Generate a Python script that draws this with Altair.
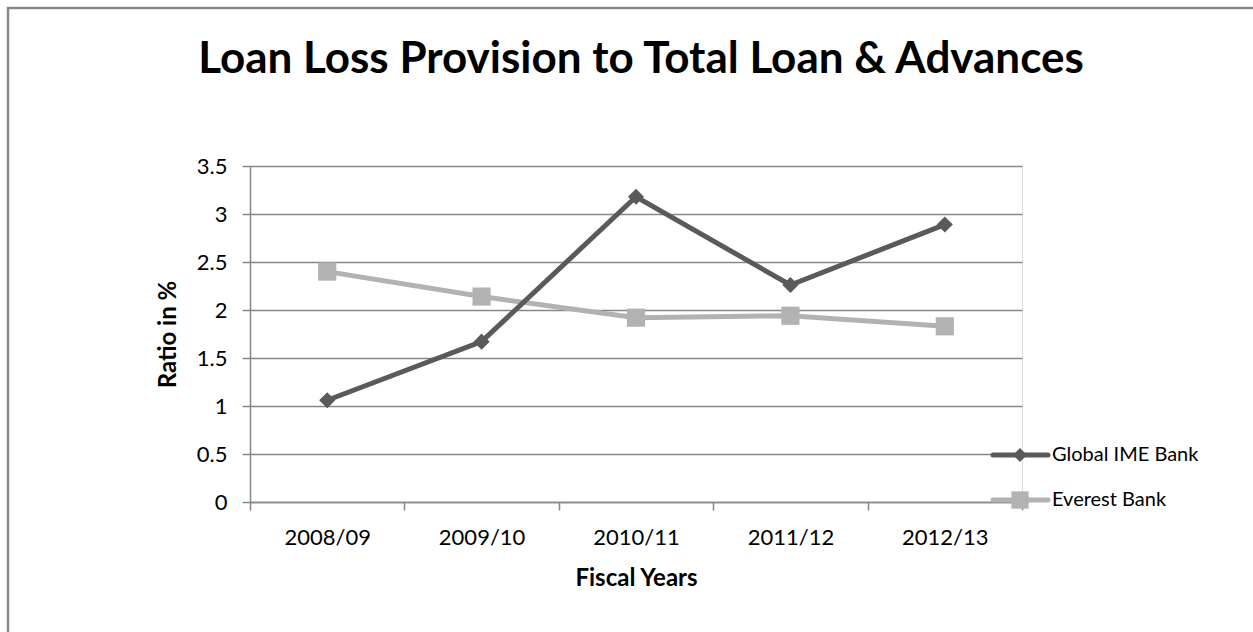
import altair as alt
import pandas as pd

years = ["2008/09", "2009/10", "2010/11", "2011/12", "2012/13"]
global_ime = [1.06, 1.67, 3.18, 2.26, 2.89]
everest = [2.40, 2.14, 1.92, 1.94, 1.83]
series_names = ["Global IME Bank", "Everest Bank"]
series_colors = ["#5a5a5a", "#b2b2b2"]
y_ticks = [0, 0.5, 1, 1.5, 2, 2.5, 3, 3.5]
title_text = "Loan Loss Provision to Total Loan & Advances"

rows = []
for i, y in enumerate(years):
    rows.append({"year": y, "series": series_names[0], "value": global_ime[i]})
    rows.append({"year": y, "series": series_names[1], "value": everest[i]})
df = pd.DataFrame(rows)

FONT = "Lato"
W, H = 772, 336

x_enc = alt.X("year:N", sort=years, bandPosition=0.5,
              scale=alt.Scale(type="band", paddingInner=0, paddingOuter=0),
              axis=alt.Axis(title="Fiscal Years", labelAngle=0, tickBand="extent",
                            domainColor="#878787", domainWidth=1.5, tickColor="#878787",
                            tickWidth=1.5, tickSize=8, labelPadding=17, labelFontSize=22,
                            labelFont=FONT, labelColor="#000000", titleFont=FONT,
                            titleFontSize=24, titleFontWeight="bold", titlePadding=18,
                            titleColor="#000000", grid=False))
y_enc = alt.Y("value:Q", scale=alt.Scale(domain=[0, 3.5], nice=False),
              axis=alt.Axis(title="Ratio in %", values=y_ticks, format="~g",
                            domainColor="#878787",
                            domainWidth=1.5, tickColor="#878787", tickWidth=1.5, tickSize=8,
                            labelPadding=15, labelFontSize=22, labelFont=FONT,
                            labelColor="#000000", titleFont=FONT, titleFontSize=24,
                            titleFontWeight="bold", titlePadding=16, titleColor="#000000",
                            grid=True, gridColor="#878787", gridWidth=1.5))
color_enc = alt.Color("series:N", scale=alt.Scale(domain=series_names, range=series_colors),
                      legend=None)

base = alt.Chart(df)
g = base.transform_filter(alt.datum.series == series_names[0])
e = base.transform_filter(alt.datum.series == series_names[1])

line_e = e.mark_line(strokeWidth=5).encode(x=x_enc, y=y_enc, color=color_enc)
pts_e = e.mark_point(shape="square", filled=True, size=330, opacity=1).encode(
    x=x_enc, y=y_enc, color=color_enc)
line_g = g.mark_line(strokeWidth=5).encode(x=x_enc, y=y_enc, color=color_enc)
pts_g = g.mark_point(shape="diamond", filled=True, size=260, opacity=1).encode(
    x=x_enc, y=y_enc, color=color_enc)

one = alt.Chart(pd.DataFrame({"k": [0]}))

border = one.mark_rect(fill=None, stroke="#878787", strokeWidth=2.5).encode(
    x=alt.value(-242), x2=alt.value(W + 260), y=alt.value(-158), y2=alt.value(H + 160))

title = one.mark_text(text=title_text, align="center", baseline="alphabetic",
                      font=FONT, fontSize=44, fontWeight="bold", color="#000000").encode(
    x=alt.value(391), y=alt.value(-93))

leg = []
leg_y = [289, 334]
leg_shapes = ["diamond", "square"]
leg_sizes = [200, 300]
for i in range(2):
    leg.append(one.mark_rule(strokeWidth=5, strokeCap="round", color=series_colors[i]).encode(
        x=alt.value(743), x2=alt.value(798), y=alt.value(leg_y[i])))
    leg.append(one.mark_point(shape=leg_shapes[i], filled=True, size=leg_sizes[i], opacity=1,
                              color=series_colors[i]).encode(
        x=alt.value(770), y=alt.value(leg_y[i])))
    leg.append(one.mark_text(text=series_names[i], align="left", baseline="middle",
                             font=FONT, fontSize=20, color="#000000").encode(
        x=alt.value(802), y=alt.value(leg_y[i])))

chart = alt.layer(border, title, line_e, line_g, pts_e, pts_g, *leg).properties(
    width=W, height=H,
    autosize=alt.AutoSizeParams(type="none"),
    padding={"left": 250, "top": 166, "right": 231, "bottom": 130},
).configure_view(stroke=None).configure(background="#ffffff")

chart.save("out.html", embed_options={"renderer": "svg", "actions": False})
